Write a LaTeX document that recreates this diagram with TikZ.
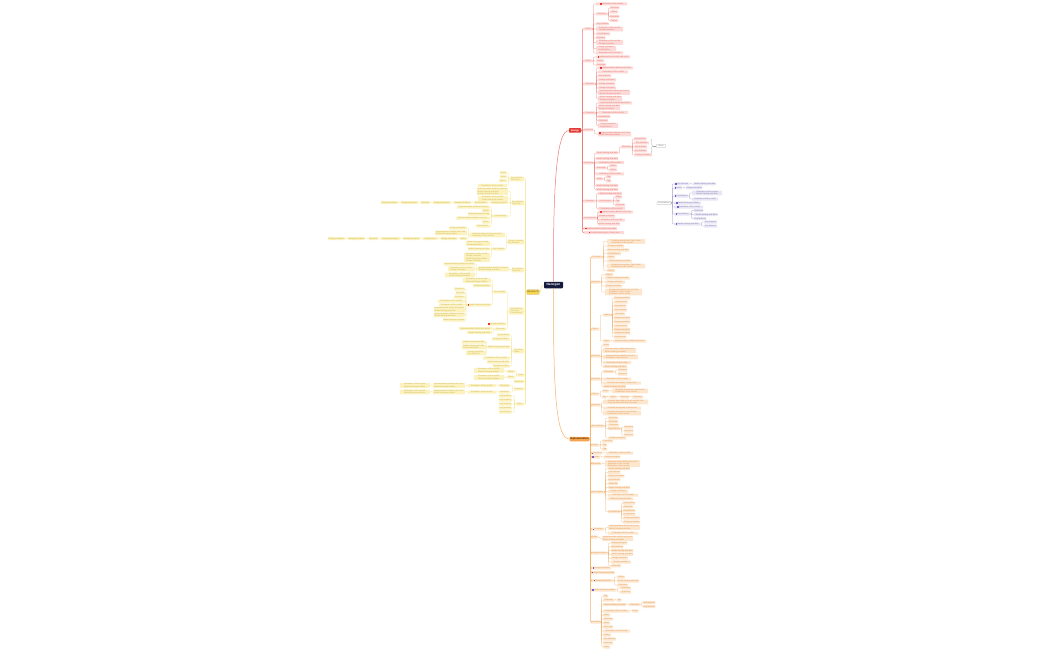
\documentclass[tikz,border=0pt]{standalone}
\usepackage{fontspec}
\setmainfont{Liberation Sans}
\usetikzlibrary{decorations.pathreplacing}
\definecolor{rmain}{RGB}{229,57,53}
\definecolor{rfill}{RGB}{252,218,215}
\definecolor{rtext}{RGB}{226,120,115}
\definecolor{rline}{RGB}{240,120,115}
\definecolor{omain}{RGB}{246,164,78}
\definecolor{ofill}{RGB}{252,230,205}
\definecolor{otext}{RGB}{225,150,85}
\definecolor{oline}{RGB}{243,178,110}
\definecolor{ymain}{RGB}{246,214,76}
\definecolor{yfill}{RGB}{251,242,192}
\definecolor{ytext}{RGB}{205,180,80}
\definecolor{yline}{RGB}{243,225,130}
\definecolor{navy}{RGB}{22,26,60}
\definecolor{pfill}{RGB}{232,230,245}
\definecolor{ptext}{RGB}{130,125,170}
\definecolor{pline}{RGB}{150,145,190}
\definecolor{picon}{RGB}{110,95,210}
\definecolor{rdot}{RGB}{229,57,53}
\definecolor{sgray}{RGB}{165,165,165}
\colorlet{icc}{rdot}
\newcommand\wtxt[1]{\ifnum#1<6 Tag\else\ifnum#1<9 Notes\else\ifnum#1<12 Overview\else\ifnum#1<16 Key features\else\ifnum#1<21 Design principles\else\ifnum#1<26 Model training and data\else\ifnum#1<31 Evaluation of the results\else\ifnum#1<36 Implementation details and notes\else\ifnum#1<41 Detailed description of each item\else Detailed description of each related item\fi\fi\fi\fi\fi\fi\fi\fi\fi}
\newcommand\mlines[2]{\wtxt{#1}\ifnum#2>1 \\\wtxt{\numexpr#1*3/4\relax}\fi\ifnum#2>2 \\\wtxt{\numexpr#1*4/5\relax}\fi\ifnum#2>3 \\\wtxt{\numexpr#1*2/3\relax}\fi}
\newcommand\icn{\textcolor{icc}{\rule[-0.15pt]{1.3pt}{1.3pt}}\hspace{0.35pt}}
\newcommand\lbl[2]{\ifnum#2>9 \icn\mlines{\numexpr#1-2\relax}{\numexpr#2-10\relax}\else\mlines{#1}{#2}\fi}
% right-growing group: line style, node style, parent, child x, list y/w/lines
\newcommand\GR[5]{\foreach \cy/\cw/\cl [count=\ci] in {#5}{%
 \node[#2, minimum width=\cw pt, anchor=west] (#3-\ci) at (#4,\cy) {\lbl{\cw}{\cl}};
 \draw[#1] (#3.east) -- ++(1.2,0) |- (#3-\ci.west);}}
% left-growing group
\newcommand\GL[5]{\foreach \cy/\cw/\cl [count=\ci] in {#5}{%
 \node[#2, minimum width=\cw pt, anchor=east] (#3-\ci) at (#4,\cy) {\lbl{\cw}{\cl}};
 \draw[#1] (#3.west) -- ++(-1.2,0) |- (#3-\ci.east);}}
\tikzset{
 lf/.style={inner sep=0.45pt, minimum height=3pt, align=left, font=\fontsize{2}{2.2}\selectfont, rounded corners=0.5pt},
 rlf/.style={lf, fill=rfill, text=rtext, execute at begin node={\colorlet{icc}{rdot}}},
 olf/.style={lf, fill=ofill, text=otext, execute at begin node={\colorlet{icc}{picon}}},
 ylf/.style={lf, fill=yfill, text=ytext},
 plf/.style={lf, fill=pfill, text=ptext, execute at begin node={\colorlet{icc}{picon}}},
 rln/.style={draw=rline, line width=0.25pt, rounded corners=0.6pt},
 rtr/.style={draw=rline, line width=0.5pt, rounded corners=0.8pt},
 oln/.style={draw=oline, line width=0.25pt, rounded corners=0.6pt},
 otr/.style={draw=oline, line width=0.5pt, rounded corners=0.8pt},
 yln/.style={draw=yline, line width=0.25pt, rounded corners=0.6pt},
 ytr/.style={draw=yline, line width=0.5pt, rounded corners=0.8pt},
 pln/.style={draw=pline, line width=0.25pt, rounded corners=0.6pt},
 mainst/.style={inner sep=0.6pt, minimum height=4.5pt, rounded corners=0.7pt, font=\fontsize{2.5}{3}\selectfont\bfseries},
 cst/.style={fill=navy, text=white, inner sep=1pt, minimum width=19pt, minimum height=6.5pt, rounded corners=0.8pt, font=\fontsize{3.2}{4}\selectfont\bfseries},
 rmainst/.style={mainst, fill=rmain, text=white, minimum width=12pt},
 omainst/.style={mainst, fill=omain, text=black!70!orange, minimum width=19pt},
 ymainst/.style={mainst, fill=ymain, draw=ymain!80!black, line width=0.2pt, text=black!60!yellow, minimum width=12pt},
 outl/.style={lf, fill=white, draw=sgray, line width=0.3pt, text=black!50},
 cmain/.style={line width=0.5pt},
}
\begin{document}
\begin{tikzpicture}[x=1pt,y=-1pt]
\useasboundingbox (0,0) rectangle (1050,650);
\fill[white] (0,0) rectangle (1050,650);

% ---------- centre and main topics ----------
\node[cst] (C) at (553.5,285) {Nanogen};
\node[rmainst] (RM) at (575,130.5) {Design};
\node[omainst] (OM) at (579.5,439) {Implementation};
\node[ymainst] (YM) at (533,292) {Research};
\draw[cmain, draw=rline] (C.north) .. controls (553,180) and (557,130.5) .. (RM.west);
\draw[cmain, draw=oline] (C.south) .. controls (553,400) and (557,439) .. (OM.west);
\draw[cmain, draw=yline] (C.west) .. controls (540,285) and (542,292) .. (YM.east);

% ---------- red branch ----------
\GR{rtr}{rlf}{RM}{584}{29/8/1, 61/8/1, 84/11/1, 113/11/1, 130/9/1, 163/9/1, 201/11/1, 218/12/1, 228.5/33/11, 232.5/40/11}
\GR{rln}{rlf}{RM-1}{596}{4/31/11, 14/11/1, 24/13/1, 29/27/2, 34/14/1, 38/9/1, 42.5/27/2, 48.5/20/2, 53/27/1}
\GR{rln}{rlf}{RM-1-2}{610}{8/9/1, 12/8/1, 16.5/9/1, 20.5/8/1}
\GR{rln}{rlf}{RM-2}{596}{57/34/11, 61/8/1, 65/10/1}
\GR{rln}{rlf}{RM-3}{598}{68/35/11, 72/30/1, 76/13/1, 80/18/1, 84/17/1, 88/18/1, 92.5/32/2, 98.5/24/2}
\GR{rln}{rlf}{RM-4}{598}{103/34/1, 107.5/22/2, 112.5/30/1, 116.5/12/1, 120.5/10/1, 125.5/20/2}
\GR{rln}{rlf}{RM-5}{598}{134/33/12}
\GR{rln}{rlf}{RM-6}{596}{153/22/1, 158.5/22/1, 162.5/28/1, 168/10/1, 174/28/1, 179/7/1, 185.5/22/1, 189.5/22/1}
\GR{rln}{rlf}{RM-6-1}{621}{147/10/1}
\GR{rln}{rlf}{RM-6-1-1}{634}{139/12/1, 143/15/1, 147/13/1, 151/13/1, 155/18/1}
\GR{rln}{rlf}{RM-6-4}{609}{166/8/1, 170/8/1}
\GR{rln}{rlf}{RM-6-6}{606}{177/5/1, 181/5/1}
\GR{rln}{rlf}{RM-7}{598}{193.5/24/1, 201/14/1, 208.5/27/1}
\GR{rln}{rlf}{RM-7-2}{615}{197/7/1, 201/5/1, 205/10/1}
\GR{rln}{rlf}{RM-8}{598}{212/35/11, 216/17/1, 220/27/1, 224/22/1}
% summary brace
\draw[sgray, line width=0.3pt, decorate, decoration={brace, amplitude=1.5pt}] (651,139) -- (651,153);
\coordinate (BT) at (652.6,146);
\node[outl, minimum width=9pt] (SB) at (661,146) {Notes};
\draw[sgray, line width=0.3pt] (BT) -- (SB.west);

% ---------- floating purple topic ----------
\node[outl, minimum width=14pt] (PR) at (664,203) {Key features};
\GR{pln}{plf}{PR}{674}{184/15/11, 188/8/11, 196/14/11, 203/27/11, 207/29/11, 214/16/11, 224/26/11}
\GR{pln}{plf}{PR-1}{693}{184/23/1}
\GR{pln}{plf}{PR-2}{686}{188/16/1}
\GR{pln}{plf}{PR-3}{692}{193/30/2, 199/26/1}
\GR{pln}{plf}{PR-6}{694}{210.5/9/1, 214.5/24/1, 218.5/12/1}
\GR{pln}{plf}{PR-7}{704}{222/13/1, 226/13/1}

% ---------- yellow branch ----------
\GL{ytr}{ylf}{YM}{524}{179/14/2, 203/12/2, 242/16/2, 270/12/2, 311/15/3, 351/11/2, 375/6/1, 381.5/10/1, 389/10/1, 404/8/1}
\GL{yln}{ylf}{YM-1}{507}{173/7/1, 177/7/1, 181/8/1, 185.5/29/1}
\GL{yln}{ylf}{YM-2}{508}{191.5/31/3, 198.5/30/2, 202.5/17/1, 216/15/1}
\GL{yln}{ylf}{YM-2-3}{488}{202.5/14/1}
\GL{yln}{ylf}{YM-2-3-1}{471}{202.5/17/1}
\GL{yln}{ylf}{YM-2-3-1-1}{451}{202.5/18/1}
\GL{yln}{ylf}{YM-2-3-1-1-1}{430}{202.5/9/1}
\GL{yln}{ylf}{YM-2-3-1-1-1-1}{418}{202.5/17/1}
\GL{yln}{ylf}{YM-2-3-1-1-1-1-1}{398}{202.5/17/1}
\GL{yln}{ylf}{YM-2-4}{490}{207/33/1, 210.5/8/1, 214/22/1, 218/34/1, 222/8/1, 226/14/1}
\GL{yln}{ylf}{YM-3}{505}{235/35/2, 249/12/1}
\GL{yln}{ylf}{YM-3-1}{467}{228/18/1, 233/32/2, 238.5/7/1}
\GL{yln}{ylf}{YM-3-1-3}{457}{238.5/16/1}
\GL{yln}{ylf}{YM-3-1-3-1}{438}{238.5/15/1}
\GL{yln}{ylf}{YM-3-1-3-1-1}{420}{238.5/17/1}
\GL{yln}{ylf}{YM-3-1-3-1-1-1}{400}{238.5/19/1}
\GL{yln}{ylf}{YM-3-1-3-1-1-1-1}{378}{238.5/9/1}
\GL{yln}{ylf}{YM-3-1-3-1-1-1-1-1}{365}{238.5/17/1}
\GL{yln}{ylf}{YM-3-1-3-1-1-1-1-1-1}{345}{238.5/17/1}
\GL{yln}{ylf}{YM-3-2}{490}{243.5/24/2, 249/22/1, 257.5/26/4}
\GL{yln}{ylf}{YM-4}{509}{269/31/2}
\GL{yln}{ylf}{YM-4-1}{475}{264/31/1, 269/27/2, 275/30/2}
\GL{yln}{ylf}{YM-5}{506}{292/12/1, 324/18/11, 329/11/1}
\GL{yln}{ylf}{YM-5-1}{491}{280.5/28/2, 285.5/18/1, 305/23/11}
\GL{yln}{ylf}{YM-5-1-3}{465}{289/11/1, 293/9/1, 297/11/1, 301/27/1, 305/26/1, 309.5/31/2, 315/31/2, 320/21/1}
\GL{yln}{ylf}{YM-5-3}{492}{328.5/33/1, 332.5/25/1}
\GL{yln}{ylf}{YM-6}{510}{335/13/1, 339/18/1, 347/21/1, 358/27/1, 362/23/1, 366/17/1}
\GL{yln}{ylf}{YM-6-3}{486}{342/24/1, 347/24/2, 353/20/2}
\GL{yln}{ylf}{YM-7}{515}{371.5/8/1, 377/8/1}
\GL{yln}{ylf}{YM-7-1}{504}{370.5/30/2}
\GL{yln}{ylf}{YM-7-2}{504}{377.5/30/2}
\GL{yln}{ylf}{YM-9}{510}{385.5/11/1, 392/11/1}
\GL{yln}{ylf}{YM-9-1}{496}{385.5/28/1}
\GL{yln}{ylf}{YM-9-1-1}{465}{385.5/32/2}
\GL{yln}{ylf}{YM-9-1-1-1}{430}{385.5/30/2}
\GL{yln}{ylf}{YM-9-2}{496}{392/28/1}
\GL{yln}{ylf}{YM-9-2-1}{465}{392/32/2}
\GL{yln}{ylf}{YM-9-2-1-1}{430}{392/30/2}
\GL{yln}{ylf}{YM-10}{512}{396/13/1, 400/13/1, 404/13/1, 408/13/1, 412/13/1}

% ---------- orange branch ----------
\GR{otr}{olf}{OM}{591}{257/11/1, 282/9/1, 329/8/1, 356/9/1, 379/9/1, 394/8/1, 405/9/1, 426/13/1, 445/8/1, 453/11/11, 457/9/11, 463.5/10/1, 492/13/1, 529/13/11, 537/7/1, 553/16/1, 568/20/11, 572.5/23/11, 580.5/22/11, 590/25/11, 622/9/1}
\GR{oln}{olf}{OM-1}{607}{241.5/38/2, 246/17/1, 250/22/1, 253.5/14/1, 257/8/1, 261/25/1, 266/38/2, 270.5/8/1}
\GR{oln}{olf}{OM-2}{605}{274.5/8/1, 278/25/1, 282/20/1, 286/17/1, 292/37/3}
\GR{oln}{olf}{OM-3}{603}{315/8/1, 341/7/1}
\GR{oln}{olf}{OM-3-1}{614}{298/16/1, 302/14/1, 306/12/1, 310/13/1, 314/11/1, 318/16/1, 322/16/1, 326/14/1, 329.5/16/1, 333/16/1, 337/12/1}
\GR{oln}{olf}{OM-3-2}{613}{341/33/1}
\GR{oln}{olf}{OM-4}{603}{345/6/1, 350.5/33/2, 357/35/2, 362.5/28/1, 366.5/24/1}
\GR{oln}{olf}{OM-5}{603}{371.5/11/1, 379/28/1, 383/38/1, 386.5/23/1}
\GR{oln}{olf}{OM-5-1}{618}{370/9/1, 374/9/1}
\GR{oln}{olf}{OM-6}{602}{391/7/1, 397/4/1}
\GR{oln}{olf}{OM-6-1}{612}{391/36/2}
\GR{oln}{olf}{OM-6-2}{609}{397/8/1}
\GR{oln}{olf}{OM-6-2-1}{620}{397/9/1}
\GR{oln}{olf}{OM-6-2-1-1}{632}{397/11/1}
\GR{oln}{olf}{OM-7}{603}{402/45/2, 408/38/1, 413/38/2}
\GR{oln}{olf}{OM-8}{608}{418/10/1, 421.5/10/1, 425/11/1, 428.5/12/1, 438/18/1}
\GR{oln}{olf}{OM-8-4}{624}{427/9/1, 431/9/1, 435/9/1}
\GR{oln}{olf}{OM-9}{602}{441/11/1, 445/5/1, 449/5/1}
\GR{oln}{olf}{OM-10}{606}{453/27/1}
\GR{oln}{olf}{OM-11}{604}{457/16/1}
\GR{oln}{olf}{OM-12}{605}{463.5/35/3}
\GR{oln}{olf}{OM-13}{608}{468.5/22/1, 472.3/12/1, 476.1/16/1, 479.9/12/1, 483.7/10/1, 487.5/22/1, 491.3/20/1, 495.1/30/1, 498.9/25/1, 511.5/12/1}
\GR{oln}{olf}{OM-13-10}{623}{503/12/1, 506.8/10/1, 510.6/12/1, 514.4/12/1, 518.2/17/1, 522/17/1}
\GR{oln}{olf}{OM-14}{608}{527.5/32/2, 533/30/1}
\GR{oln}{olf}{OM-15}{602}{538.5/31/2}
\GR{oln}{olf}{OM-16}{611}{543/16/1, 546.8/12/1, 550.6/22/1, 554.4/22/1, 558.2/17/1, 562/20/1, 565.8/10/1}
\GR{oln}{olf}{OM-19}{617}{577/8/1, 581/21/1, 585/11/1}
\GR{oln}{olf}{OM-20}{620}{588/11/1, 592/11/1}
\GR{oln}{olf}{OM-21}{603}{596/5/1, 600/11/1, 604.5/23/1, 611/26/1, 615/7/1, 619/10/1, 623/7/1, 627/10/1, 631/27/1, 635/8/1, 639/13/1, 643/10/1, 647/7/1}
\GR{oln}{olf}{OM-21-2}{617}{600/4/1}
\GR{oln}{olf}{OM-21-3}{629}{604.5/11/1}
\GR{oln}{olf}{OM-21-3-1}{643}{602.5/12/1, 606.5/12/1}
\GR{oln}{olf}{OM-21-4}{632}{611/6/1}
\end{tikzpicture}
\end{document}
